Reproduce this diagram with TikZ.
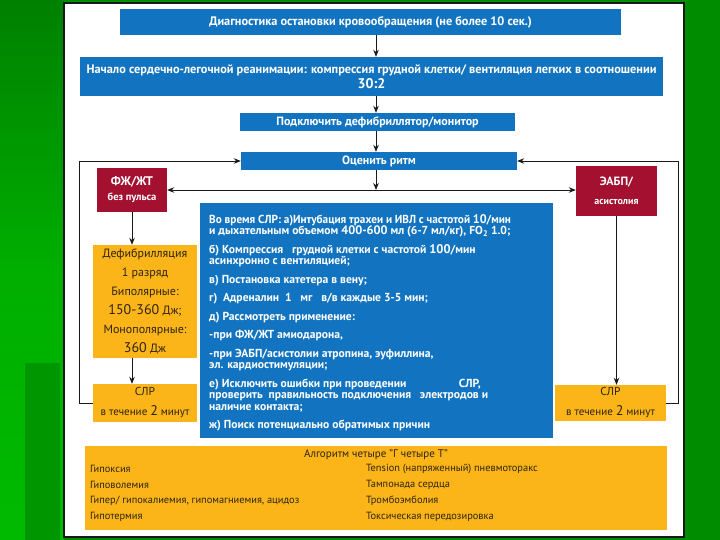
\documentclass[tikz,border=0pt]{standalone}
\usepackage{fontspec}
\setmainfont{PT Sans}
\usetikzlibrary{arrows.meta,calc}
\definecolor{bblue}{RGB}{18,116,192}
\definecolor{bred}{RGB}{163,16,48}
\definecolor{borange}{RGB}{252,181,25}
\definecolor{btext}{RGB}{45,35,20}
\definecolor{gdark}{RGB}{0,128,0}
\definecolor{gbright}{RGB}{0,186,0}
\definecolor{gstrip}{RGB}{0,150,0}
\definecolor{gright}{RGB}{0,140,0}
\definecolor{lnc}{RGB}{25,25,25}
\newcommand\tightlines{\lineskiplimit=-30pt\relax\lineskip=0pt\relax}
\begin{document}
\begin{tikzpicture}[x=1pt,y=-1pt,
  bluebox/.style={fill=bblue,text=white,font=\bfseries\fontsize{12.3}{13}\selectfont,inner sep=0pt,align=center},
  redbox/.style={fill=bred,text=white,inner sep=0pt,align=center},
  orbox/.style={fill=borange,text=btext,inner sep=0pt,align=center},
  arr/.style={-{Stealth[length=7pt,width=5.5pt]},line width=0.9pt,draw=lnc},
  ltxt/.style={anchor=west,text=btext,inner sep=0pt,font=\fontsize{10.4}{12}\selectfont}]
\useasboundingbox (0,0) rectangle (720,540);
% background
\fill[gright] (0,0) rectangle (720,540);
\shade[top color=gdark,bottom color=gbright,middle color=gbright!80!gdark] (0,0) rectangle (64,540);
\fill[gstrip] (25,363) rectangle (60,540);
\fill[white] (64,3) rectangle (684,537);
\draw[line width=1.5pt,lnc] (64,3) rectangle (684,537);
% boxes
\coordinate (a) at (376,0);
\coordinate (j) at (376,190);
\node[bluebox,minimum width=501pt,minimum height=26pt] (b1) at (370.5,22) {Диагностика остановки кровообращения (не более 10 сек.)};
\node[bluebox,minimum width=583pt,minimum height=39pt,font=\bfseries\fontsize{12.3}{12}\selectfont] (b2) at (371.5,76.5) {Начало сердечно-легочной реанимации: компрессия грудной клетки/ вентиляция легких в соотношении\\[2pt]{\fontsize{14}{14}\selectfont 30:2}};
\node[bluebox,minimum width=275pt,minimum height=18pt,font=\bfseries\fontsize{12}{13}\selectfont] (b3) at (377.5,122) {Подключить дефибриллятор/монитор};
\node[bluebox,minimum width=276pt,minimum height=18pt,font=\bfseries\fontsize{12}{13}\selectfont] (b4) at (379,161) {Оценить ритм};
\node[redbox,minimum width=70pt,minimum height=44pt] (rl) at (132,190) {{\bfseries\fontsize{12.5}{13}\selectfont ФЖ/ЖТ}\\[3pt]{\bfseries\fontsize{10.5}{11}\selectfont без пульса}};
\node[redbox,minimum width=81pt,minimum height=50pt] (rr) at (616.5,191) {{\bfseries\fontsize{12}{13}\selectfont ЭАБП/}\\[7pt]{\bfseries\fontsize{10}{11}\selectfont асистолия}};
\node[bluebox,minimum width=353pt,minimum height=235pt] (cb) at (376.5,320.5) {};
\node[anchor=north west,text=white,align=left,inner sep=0pt,font=\bfseries\fontsize{11.6}{11.5}\selectfont\tightlines] (ct) at (209,214) {\scalebox{0.97}[1]{Во время СЛР: а)Интубация трахеи и ИВЛ с частотой {\fontsize{12.5}{11.5}\selectfont 10}/мин}\\
и дыхательным объемом {\fontsize{12.3}{11.5}\selectfont 400-600} мл (6-7 мл/кг), FO\textsubscript{2} 1.0;\\[7pt]
б) Компрессия \ \ грудной клетки с частотой {\fontsize{12.5}{11.5}\selectfont 100}/мин\\
асинхронно с вентиляцией;\\[7pt]
в) Постановка катетера в вену;\\[7pt]
г) \ Адреналин \ 1 \ \ мг \ \ в/в каждые 3-5 мин;\\[7pt]
д) Рассмотреть применение:\\[7pt]
-при ФЖ/ЖТ амиодарона,\\[7pt]
-при ЭАБП/асистолии атропина, эуфиллина,\\
эл. кардиостимуляции;\\[7pt]
е) Исключить ошибки при проведении \qquad\qquad\ СЛР,\\
проверить \ правильность подключения \ \ электродов и\\
наличие контакта;\\[7pt]
ж) Поиск потенциально обратимых причин};
\node[orbox,minimum width=104pt,minimum height=113pt,font=\fontsize{12}{19}\selectfont] (df) at (145,301.5) {Дефибрилляция\\1 разряд\\Биполярные:\\{\fontsize{14}{19}\selectfont 150-360} Дж;\\Монополярные:\\{\fontsize{14}{19}\selectfont 360} Дж};
\node[orbox,minimum width=104pt,minimum height=38pt,font=\fontsize{11.5}{12}\selectfont] (ls) at (145,403) {СЛР\\[8pt]{\fontsize{11}{12}\selectfont в течение {\fontsize{14}{12}\selectfont 2} минут}};
\node[orbox,minimum width=111pt,minimum height=36pt,font=\fontsize{11.5}{12}\selectfont] (rs) at (610.5,403) {СЛР\\[8pt]{\fontsize{11}{12}\selectfont в течение {\fontsize{14}{12}\selectfont 2} минут}};
\node[orbox,minimum width=582pt,minimum height=84pt] (bb) at (376,488) {};
\node[text=btext,inner sep=0pt,font=\fontsize{11}{12}\selectfont] (bt) at (376,455) {Алгоритм четыре "Г четыре Т"};
\node[ltxt] (l1) at (90,469) {Гипоксия};
\node[ltxt] (l2) at (90,485) {Гиповолемия};
\node[ltxt] (l3) at (90,501) {Гипер/ гипокалиемия, гипомагниемия, ацидоз};
\node[ltxt] (l4) at (90,517) {Гипотермия};
\node[ltxt] (r1) at (366,469) {Tension (напряженный) пневмоторакс};
\node[ltxt] (r2) at (366,485) {Тампонада сердца};
\node[ltxt] (r3) at (366,501) {Тромбоэмболия};
\node[ltxt] (r4) at (366,517) {Токсическая передозировка};
% connectors
\draw[arr] (b1.south -| a) -- (b2.north -| a);
\draw[arr] (b2.south -| a) -- (b3.north -| a);
\draw[arr] (b3.south -| a) -- (b4.north -| a);
\draw[arr] (b4.south -| a) -- (j);
\draw[arr] (j) -- (rl.east |- j);
\draw[arr] (j) -- (rr.west |- j);
\draw[arr] (rl.south) -- (df.north -| rl.south);
\draw[arr] (df.south -| rl.south) -- (ls.north -| rl.south);
\draw[arr] (rr.south) -- (rs.north -| rr.south);
\draw[arr] (ls.west) -- ++(-13,0) |- (b4.west);
\draw[arr] (rs.east) -- ++(12,0) |- (b4.east);
\end{tikzpicture}
\end{document}
